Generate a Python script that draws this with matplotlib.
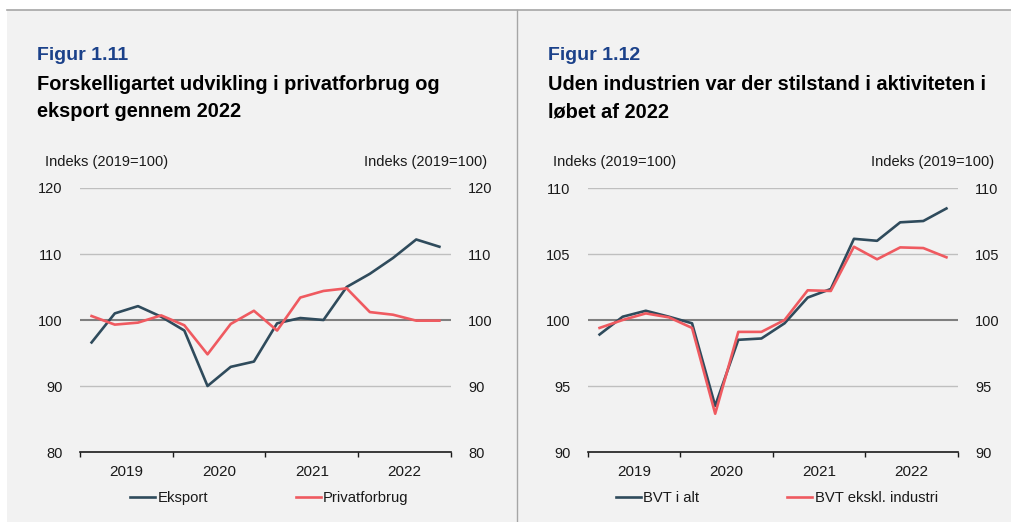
import numpy as np
import matplotlib
matplotlib.use('Agg')
from matplotlib import pyplot as plt
from matplotlib.patches import Rectangle
from matplotlib.lines import Line2D

plt.rcParams['font.family'] = ['Liberation Sans', 'DejaVu Sans']

# kvartaler 2019K1 - 2022K4
quarters = ['2019K1', '2019K2', '2019K3', '2019K4',
            '2020K1', '2020K2', '2020K3', '2020K4',
            '2021K1', '2021K2', '2021K3', '2021K4',
            '2022K1', '2022K2', '2022K3', '2022K4']
years = ['2019', '2020', '2021', '2022']

# Figur 1.11
eksport = [96.6, 101.0, 102.1, 100.5, 98.4, 90.0, 92.9, 93.7,
           99.5, 100.3, 100.0, 105.0, 107.0, 109.4, 112.2, 111.1]
privatforbrug = [100.6, 99.3, 99.6, 100.7, 99.2, 94.8, 99.4, 101.4,
                 98.4, 103.4, 104.4, 104.8, 101.2, 100.8, 99.9, 99.9]

# Figur 1.12
bvt_alt = [98.9, 100.25, 100.7, 100.25, 99.75, 93.5, 98.5, 98.6,
           99.75, 101.7, 102.35, 106.15, 106.0, 107.4, 107.5, 108.45]
bvt_ekskl = [99.4, 100.0, 100.5, 100.2, 99.4, 92.9, 99.1, 99.1,
             100.0, 102.25, 102.2, 105.55, 104.6, 105.5, 105.45, 104.75]

dark = '#2f4b5c'
red = '#ef5a60'
blue = '#1b418a'
bg = '#f2f2f2'

W, H = 1012, 522
fig = plt.figure(figsize=(W / 100, H / 100), dpi=100, facecolor='white')

# baggrund og rammer
fig.patches.append(Rectangle((7 / W, 0), 1 - 7 / W, 1 - 10 / H, transform=fig.transFigure,
                             facecolor=bg, edgecolor='none', zorder=-10))
fig.add_artist(Line2D([7 / W, 1], [1 - 10 / H, 1 - 10 / H], transform=fig.transFigure,
                      color='#a6a6a6', lw=1.2, zorder=-5))
fig.add_artist(Line2D([517 / W, 517 / W], [0, 1 - 10 / H], transform=fig.transFigure,
                      color='#a6a6a6', lw=1.0, zorder=-5))


def panel(x0, x1, series, names, ylim, yticks, fignum, title_lines, tx):
    ax = fig.add_axes([x0 / W, 1 - 452 / H, (x1 - x0) / W, (452 - 188) / H])
    ax.set_facecolor(bg)
    x = np.arange(len(quarters))
    for yv in yticks:
        if yv == 100:
            ax.axhline(yv, color='#7f7f7f', lw=1.5, zorder=1)
        elif yv != ylim[0]:
            ax.axhline(yv, color='#bfbfbf', lw=1.0, zorder=1)
    handles = []
    for vals, col in zip(series, [dark, red]):
        ln, = ax.plot(x, vals, color=col, lw=1.9, zorder=3)
        handles.append(ln)
    ax.set_xlim(-0.5, len(quarters) - 0.5)
    ax.set_ylim(*ylim)
    ax.set_yticks(yticks)
    ax.tick_params(axis='y', left=False, right=False, labelleft=True, labelright=True,
                   labelsize=10.5, pad=9, colors='#1a1a1a')
    ax.set_xticks([-0.5, 3.5, 7.5, 11.5, 15.5])
    ax.set_xticklabels([])
    ax.set_xticks([1.5, 5.5, 9.5, 13.5], minor=True)
    ax.set_xticklabels(years, minor=True)
    ax.tick_params(axis='x', which='major', direction='out', length=3.5, width=1, color='#1a1a1a')
    ax.tick_params(axis='x', which='minor', length=0, labelsize=11, pad=9, colors='#1a1a1a')
    for s in ['top', 'left', 'right']:
        ax.spines[s].set_visible(False)
    ax.spines['bottom'].set_color('#1a1a1a')
    ax.spines['bottom'].set_linewidth(1.2)

    fig.text((x0 - 35) / W, 1 - 162 / H, 'Indeks (2019=100)', fontsize=10.5, va='center', ha='left', color='#1a1a1a')
    fig.text((x1 + 36) / W, 1 - 162 / H, 'Indeks (2019=100)', fontsize=10.5, va='center', ha='right', color='#1a1a1a')

    fig.text(tx / W, 1 - 60 / H, fignum, fontsize=14, fontweight='bold', color=blue, va='baseline')
    for i, t in enumerate(title_lines):
        fig.text(tx / W, 1 - (90 + 27 * i) / H, t, fontsize=14.4, fontweight='bold', color='black', va='baseline')

    leg = ax.legend(handles, names, loc='center', bbox_to_anchor=(0.51, -0.175), ncol=2, frameon=False,
                    fontsize=10.7, handlelength=1.7, handletextpad=0.15, columnspacing=5.9)
    for t in leg.get_texts():
        t.set_color('#1a1a1a')
    return ax


panel(80, 451, [eksport, privatforbrug], ['Eksport', 'Privatforbrug'],
      (80, 120), [80, 90, 100, 110, 120], 'Figur 1.11',
      ['Forskelligartet udvikling i privatforbrug og', 'eksport gennem 2022'], 37)
panel(588, 958, [bvt_alt, bvt_ekskl], ['BVT i alt', 'BVT ekskl. industri'],
      (90, 110), [90, 95, 100, 105, 110], 'Figur 1.12',
      ['Uden industrien var der stilstand i aktiviteten i', 'løbet af 2022'], 548)

fig.savefig('out.png', dpi=100, facecolor='white')
